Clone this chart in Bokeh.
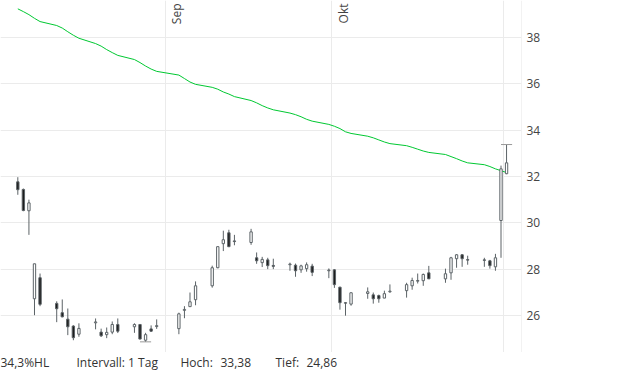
import math
import pandas as pd
from bokeh.plotting import figure
from bokeh.layouts import column
from bokeh.models import Range1d, FixedTicker, Grid, Span, ColumnDataSource
from bokeh.core.properties import value
from bokeh.embed import file_html
from bokeh.resources import INLINE

# ---------------- data ----------------
dates = ["2024-08-05", "2024-08-06", "2024-08-07", "2024-08-08", "2024-08-09",
         "2024-08-12", "2024-08-13", "2024-08-14", "2024-08-15", "2024-08-16",
         "2024-08-19", "2024-08-20", "2024-08-21", "2024-08-22", "2024-08-23",
         "2024-08-26", "2024-08-27", "2024-08-28", "2024-08-29", "2024-08-30",
         "2024-09-03", "2024-09-04", "2024-09-05", "2024-09-06",
         "2024-09-09", "2024-09-10", "2024-09-11", "2024-09-12", "2024-09-13",
         "2024-09-16", "2024-09-17", "2024-09-18", "2024-09-19", "2024-09-20",
         "2024-09-23", "2024-09-24", "2024-09-25", "2024-09-26", "2024-09-27",
         "2024-09-30", "2024-10-01", "2024-10-02", "2024-10-03", "2024-10-04",
         "2024-10-07", "2024-10-08", "2024-10-09", "2024-10-10", "2024-10-11",
         "2024-10-14", "2024-10-15", "2024-10-16", "2024-10-17", "2024-10-18",
         "2024-10-21", "2024-10-22", "2024-10-23", "2024-10-24", "2024-10-25",
         "2024-10-28", "2024-10-29", "2024-10-30", "2024-10-31", "2024-11-01"]

opens = [31.77, 31.44, 30.52, 26.72, 27.63,
         26.52, 26.12, 25.84, 25.54, 25.19,
         25.68, 25.28, 25.17, 25.28, 25.61,
         25.51, 25.61, 24.93, 25.42, 25.52,
         25.43, 26.22, 26.38, 26.68,
         27.28, 28.06, 29.10, 29.57, 29.22,
         29.15, 28.49, 28.28, 28.40, 28.16,
         28.19, 28.17, 27.97, 28.02, 28.13,
         27.93, 27.97, 27.22, 26.55, 26.49,
         26.95, 26.89, 26.86, 26.75, 27.02,
         27.07, 27.28, 27.48, 27.50, 27.84,
         27.58, 27.84, 28.45, 28.62, 28.41,
         28.40, 28.36, 28.10, 30.10, 32.12]

highs = [31.97, 31.48, 31.00, 28.23, 27.81,
         26.61, 26.69, 26.30, 25.58, 25.66,
         25.87, 25.43, 25.48, 25.74, 25.87,
         25.66, 25.62, 25.25, 25.57, 25.83,
         26.12, 26.40, 26.99, 27.47,
         28.15, 28.97, 29.66, 29.70, 29.48,
         29.74, 28.72, 28.53, 28.49, 28.45,
         28.28, 28.24, 28.19, 28.29, 28.23,
         28.03, 28.00, 27.24, 26.56, 26.99,
         27.21, 26.99, 26.90, 27.07, 27.34,
         27.41, 27.63, 27.81, 27.81, 28.14,
         28.02, 28.53, 28.65, 28.65, 28.58,
         28.49, 28.40, 28.66, 32.47, 33.38]

lows = [31.21, 30.50, 29.48, 26.01, 26.40,
        25.71, 25.92, 25.15, 24.93, 25.08,
        25.40, 25.07, 25.02, 25.19, 25.24,
        25.25, 24.97, 24.86, 25.29, 25.42,
        25.19, 25.88, 26.37, 26.44,
        27.20, 28.04, 28.78, 28.95, 29.03,
        29.05, 28.23, 28.09, 28.00, 28.00,
        27.93, 27.67, 27.84, 27.89, 27.70,
        27.61, 27.19, 26.25, 25.99, 26.42,
        26.72, 26.51, 26.55, 26.75, 26.98,
        26.77, 27.11, 27.38, 27.28, 27.58,
        27.41, 27.54, 28.06, 28.10, 28.19,
        28.10, 28.02, 27.93, 28.49, 32.10]

closes = [31.43, 30.53, 30.86, 28.23, 26.48,
          26.29, 25.94, 25.51, 25.04, 25.44,
          25.72, 25.12, 25.27, 25.61, 25.32,
          25.61, 24.98, 25.17, 25.32, 25.56,
          26.07, 26.26, 26.59, 27.28,
          28.06, 28.97, 29.27, 28.97, 29.19,
          29.61, 28.36, 28.42, 28.15, 28.12,
          28.22, 27.93, 28.14, 28.19, 27.86,
          27.96, 27.33, 26.55, 26.53, 26.98,
          27.02, 26.72, 26.72, 26.94, 27.05,
          27.33, 27.51, 27.51, 27.77, 27.58,
          27.80, 28.49, 28.62, 28.45, 28.39,
          28.38, 28.15, 28.49, 32.33, 32.59]

avg_line = [39.24, 39.12, 38.99, 38.83, 38.69,
            38.52, 38.41, 38.25, 38.10, 37.97,
            37.74, 37.63, 37.48, 37.35, 37.23,
            37.05, 36.92, 36.77, 36.64, 36.54,
            36.38, 36.23, 36.08, 35.98,
            35.85, 35.77, 35.65, 35.56, 35.45,
            35.28, 35.18, 35.06, 34.96, 34.88,
            34.74, 34.67, 34.58, 34.47, 34.39,
            34.25, 34.17, 34.07, 33.93, 33.86,
            33.74, 33.67, 33.58, 33.49, 33.42,
            33.33, 33.26, 33.18, 33.10, 33.04,
            32.95, 32.86, 32.77, 32.67, 32.59,
            32.51, 32.43, 32.33, 32.25, 32.17]

month_grid_dates = ["2024-09-01", "2024-10-01", "2024-11-01"]
month_labels = ["Sep", "Okt"]
y_ticks = [26, 28, 30, 32, 34, 36, 38]
interval_text = "Intervall: 1 Tag"

# ---------------- derived ----------------
origin = pd.Timestamp("2024-09-01")
xs = [(pd.Timestamp(d) - origin).days + 0.5 for d in dates]
grid_x = [(pd.Timestamp(d) - origin).days for d in month_grid_dates]

up_col = "#ffffff"
down_col = "#1c1c1c"
edge_col = "#5c6367"
grid_col = "#ebebeb"

src = ColumnDataSource(dict(
    x=xs, o=opens, h=highs, l=lows, c=closes,
    top=[max(o, c) for o, c in zip(opens, closes)],
    bot=[min(o, c) for o, c in zip(opens, closes)],
    fill=[down_col if c < o else up_col for o, c in zip(opens, closes)],
))

x_start, x_end = -29.62, 64.19
y_start, y_end = 24.40, 39.60

p = figure(width=620, height=352, output_backend="svg", toolbar_location=None,
           x_range=Range1d(x_start, x_end), y_range=Range1d(y_start, y_end),
           x_axis_location=None, y_axis_location="right", tools="")
p.min_border = 0
p.min_border_left = 0
p.min_border_top = 0
p.min_border_right = 99
p.min_border_bottom = 0
p.outline_line_color = None
p.background_fill_color = "white"
p.border_fill_color = "white"

ax = p.yaxis[0]
ax.ticker = FixedTicker(ticks=y_ticks)
ax.axis_line_color = None
ax.major_tick_line_color = None
ax.minor_tick_line_color = None
ax.major_tick_out = 0
ax.major_tick_in = 0
ax.major_label_standoff = 5
ax.major_label_text_font = "Open Sans"
ax.major_label_text_font_size = "12px"
ax.major_label_text_color = "#444444"

p.ygrid.ticker = FixedTicker(ticks=y_ticks)
p.ygrid.grid_line_color = grid_col
p.xgrid.visible = False
p.add_layout(Grid(dimension=0, ticker=FixedTicker(ticks=grid_x), grid_line_color=grid_col))

p.add_layout(Span(location=x_end, dimension="height", line_color="#e6e6e6", line_width=1))
p.add_layout(Span(location=y_start, dimension="width", line_color="#e6e6e6", line_width=1))

# month labels (rotated, at the top, right of the month grid line)
label_y = y_end - 3.0 / 23.17
p.text(x=grid_x[:len(month_labels)], y=[label_y] * len(month_labels), text=month_labels,
       angle=math.pi / 2, text_align="right", text_baseline="top",
       x_offset=3, text_font=value("Open Sans"),
       text_font_size="12px", text_color="#444444")

# average line
p.line(xs, avg_line, line_color="#00c832", line_width=1)

# candles
p.segment(x0="x", y0="h", x1="x", y1="l", source=src, line_color=edge_col, line_width=1)
p.vbar(x="x", width=0.42, top="top", bottom="bot", source=src,
       fill_color="fill", line_color=edge_col, line_width=1)

# high / low markers
hi = max(highs)
lo = min(lows)
hi_x = xs[highs.index(hi)]
lo_x = xs[lows.index(lo)]
p.segment(x0=[hi_x - 1, lo_x - 1], y0=[hi, lo], x1=[hi_x + 1, lo_x + 1], y1=[hi, lo],
          line_color="#999999", line_width=1)

# ---------------- info row ----------------
def de(v):
    return f"{v:.2f}".replace(".", ",")

hl_pct = f"{(hi - lo) / lo * 100:.1f}".replace(".", ",") + "%HL"
info_texts = [hl_pct, interval_text, "Hoch:", de(hi), "Tief:", de(lo)]
info_pos = [0, 76, 180, 220, 275, 306]

q = figure(width=620, height=20, output_backend="svg", toolbar_location=None,
           x_range=Range1d(0, 521), y_range=Range1d(0, 20),
           x_axis_location=None, y_axis_location=None, tools="")
q.min_border = 0
q.min_border_left = 0
q.min_border_right = 99
q.min_border_top = 0
q.min_border_bottom = 0
q.outline_line_color = None
q.xgrid.visible = False
q.ygrid.visible = False
q.text(x=info_pos, y=[10] * len(info_pos), text=info_texts,
       text_align="left", text_baseline="middle",
       text_font=value("Open Sans"), text_font_size="12px", text_color="#333333")

layout = column(p, q, spacing=0)
open("out.html", "w").write(file_html(layout, INLINE))
